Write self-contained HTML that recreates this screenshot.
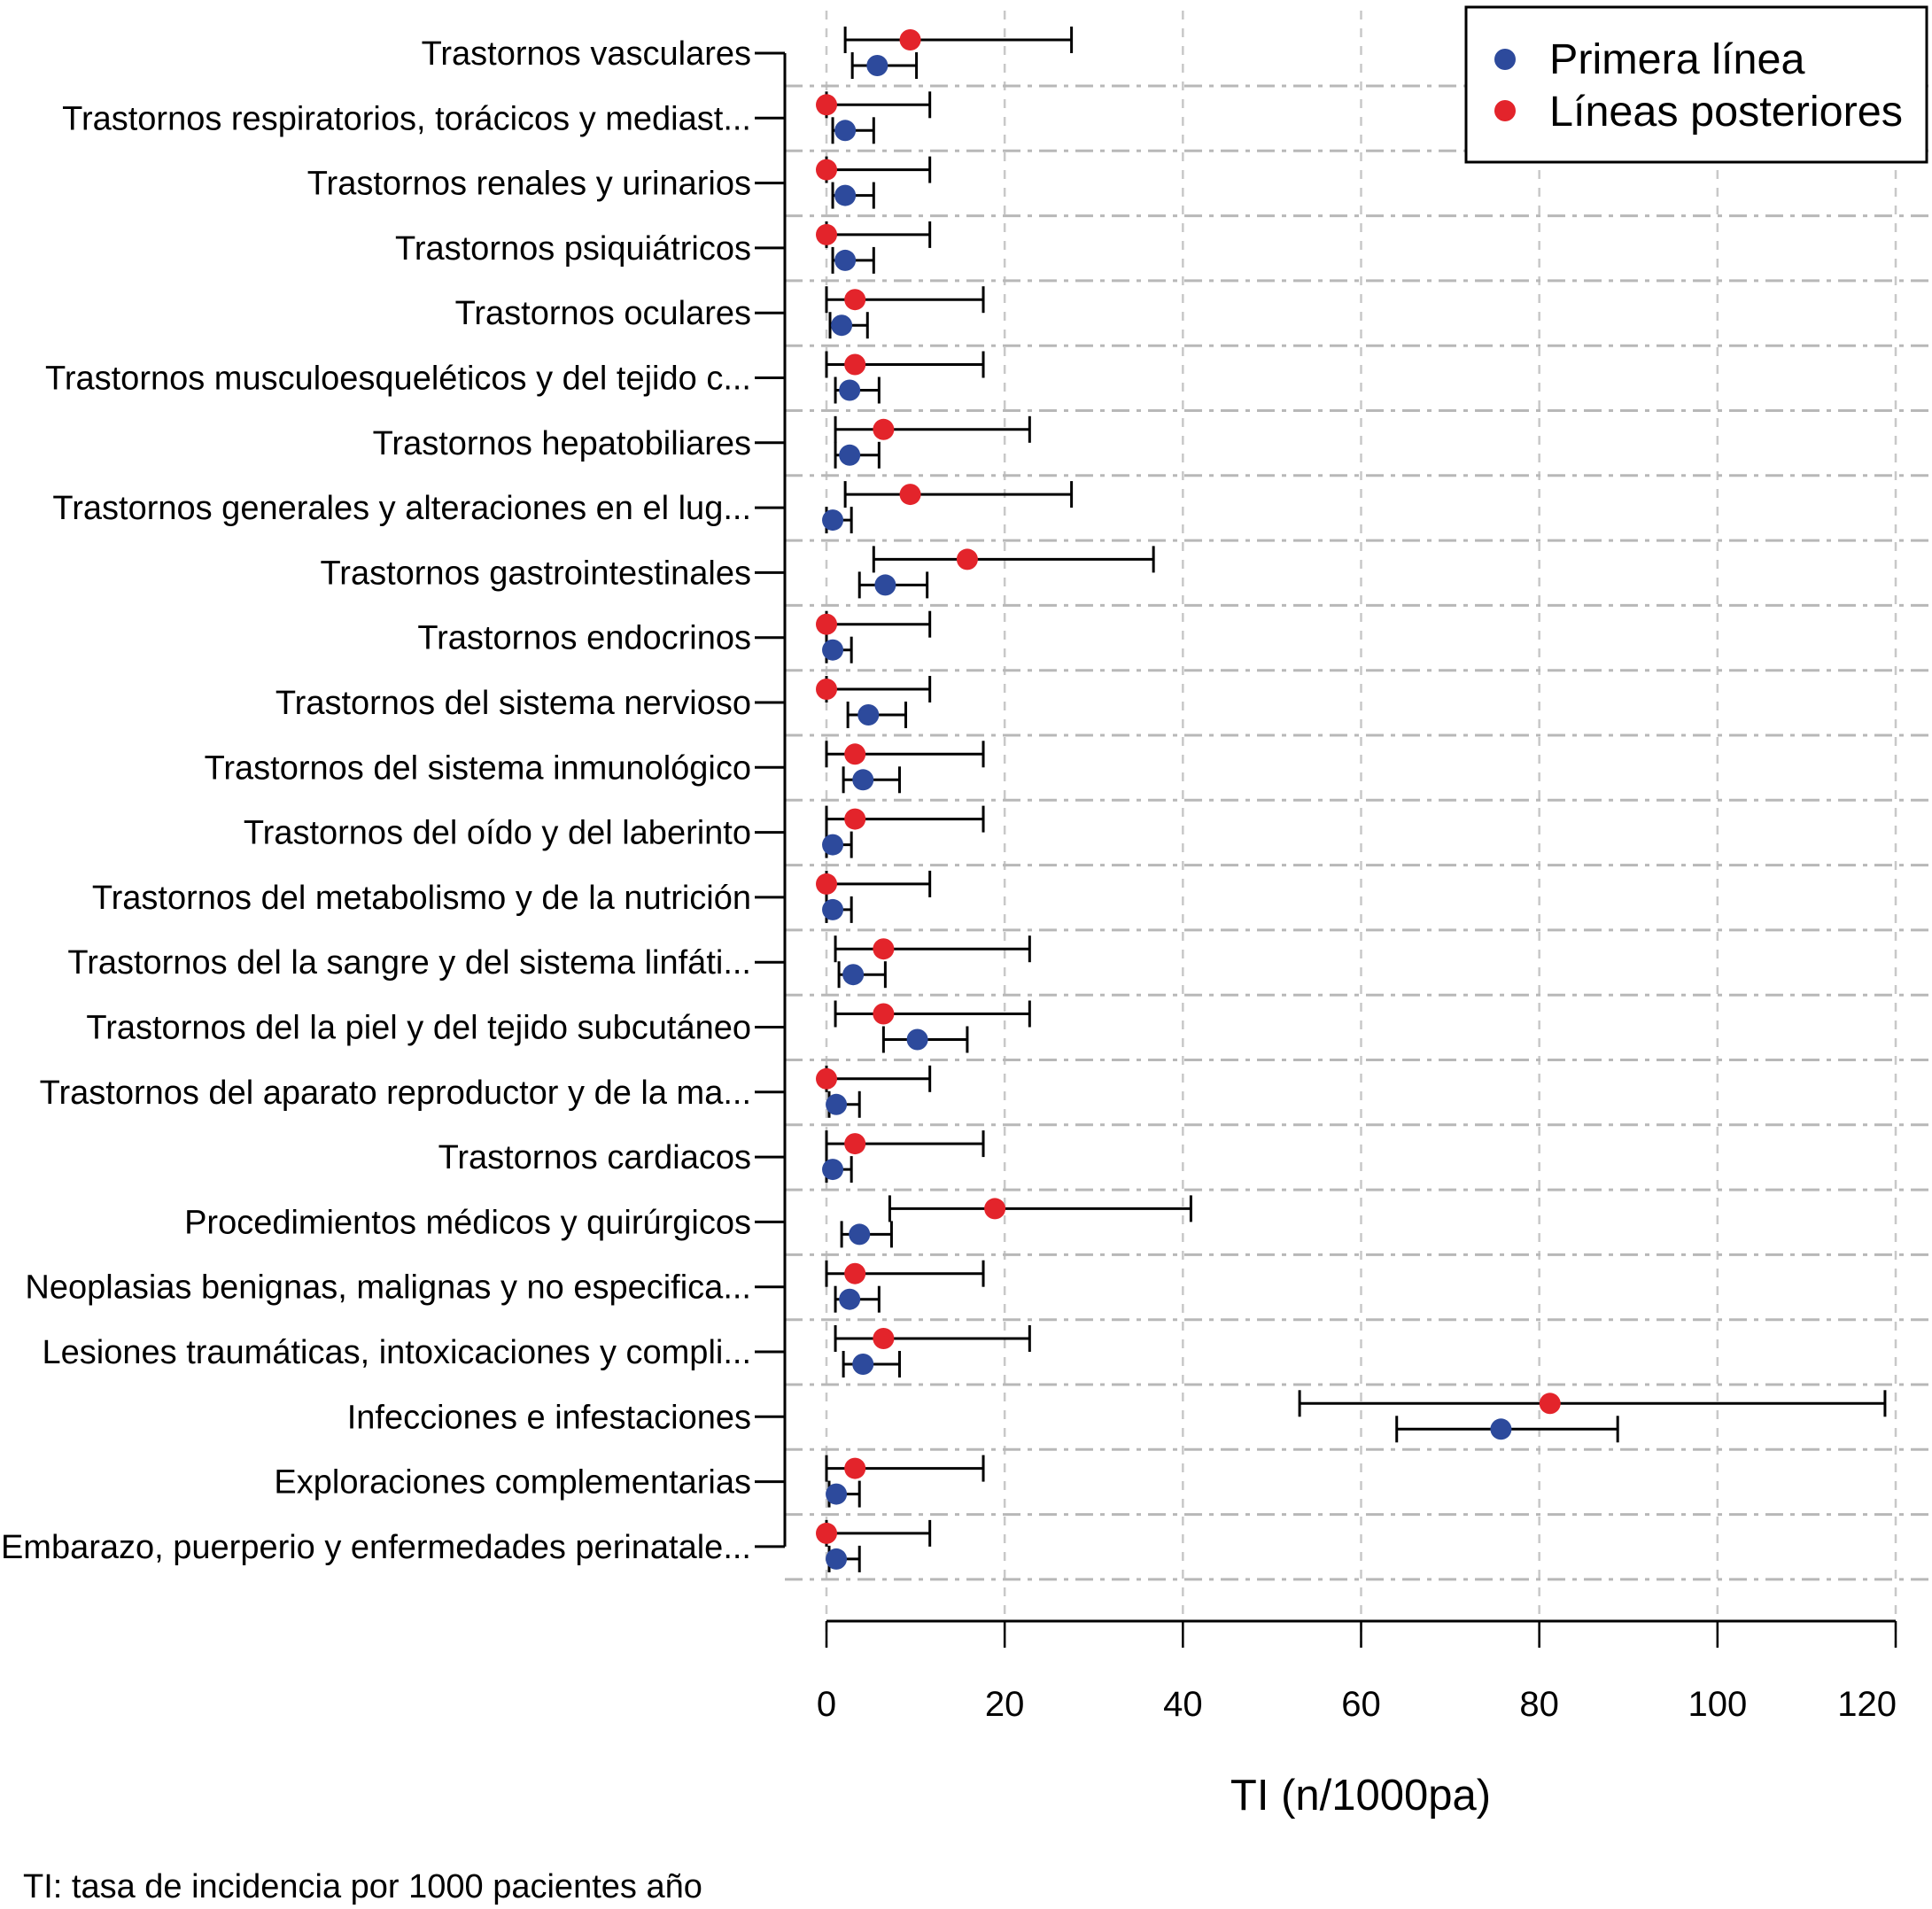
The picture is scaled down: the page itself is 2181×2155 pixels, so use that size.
<!DOCTYPE html>
<html><head><meta charset="utf-8">
<style>
html,body{margin:0;padding:0;background:#fff;}
svg{display:block;font-family:"Liberation Sans",Arial,sans-serif;}
</style></head>
<body>
<svg id="chart" width="2181" height="2155" viewBox="0 0 2181 2155" xmlns="http://www.w3.org/2000/svg">
<g id="grid"></g>
<g id="rows"></g>
<g id="xaxis"></g>
<text x="1536" y="2043" font-size="49" text-anchor="middle">TI (n/1000pa)</text>
<text x="26" y="2142" font-size="38">TI: tasa de incidencia por 1000 pacientes año</text>
<g>
<rect x="1655" y="8" width="520" height="175" fill="#fff" stroke="#000" stroke-width="3"/>
<circle cx="1699" cy="67" r="12" fill="#2d4a9c"/>
<text x="1749" y="83" font-size="48.5">Primera línea</text>
<circle cx="1699" cy="125" r="12" fill="#e3242b"/>
<text x="1749" y="142" font-size="48.5">Líneas posteriores</text>
</g>
</svg>
<script>
const categories = ["Trastornos vasculares","Trastornos respiratorios, torácicos y mediast...","Trastornos renales y urinarios","Trastornos psiquiátricos","Trastornos oculares","Trastornos musculoesqueléticos y del tejido c...","Trastornos hepatobiliares","Trastornos generales y alteraciones en el lug...","Trastornos gastrointestinales","Trastornos endocrinos","Trastornos del sistema nervioso","Trastornos del sistema inmunológico","Trastornos del oído y del laberinto","Trastornos del metabolismo y de la nutrición","Trastornos del la sangre y del sistema linfáti...","Trastornos del la piel y del tejido subcutáneo","Trastornos del aparato reproductor y de la ma...","Trastornos cardiacos","Procedimientos médicos y quirúrgicos","Neoplasias benignas, malignas y no especifica...","Lesiones traumáticas, intoxicaciones y compli...","Infecciones e infestaciones","Exploraciones complementarias","Embarazo, puerperio y enfermedades perinatale..."];
const redVal = [9.4,0,0,0,3.2,3.2,6.4,9.4,15.8,0,0,3.2,3.2,0,6.4,6.4,0,3.2,18.9,3.2,6.4,81.2,3.2,0];
const redLo  = [2.1,0,0,0,0,0,1,2.1,5.3,0,0,0,0,0,1,1,0,0,7.1,0,1,53.1,0,0];
const redHi  = [27.5,11.6,11.6,11.6,17.6,17.6,22.8,27.5,36.7,11.6,11.6,17.6,17.6,11.6,22.8,22.8,11.6,17.6,40.9,17.6,22.8,118.8,17.6,11.6];
const blueVal = [5.7,2.1,2.1,2.1,1.7,2.6,2.6,0.7,6.6,0.7,4.7,4.1,0.7,0.7,3.0,10.2,1.1,0.7,3.7,2.6,4.1,75.7,1.1,1.1];
const blueLo  = [2.9,0.7,0.7,0.7,0.4,1,1,0,3.7,0,2.4,1.9,0,0,1.4,6.4,0.3,0,1.7,1,1.9,64.0,0.3,0.3];
const blueHi  = [10.1,5.3,5.3,5.3,4.6,5.9,5.9,2.8,11.3,2.8,8.9,8.2,2.8,2.8,6.6,15.8,3.7,2.8,7.3,5.9,8.2,88.8,3.7,3.7];
const xTicks = [0,20,40,60,80,100,120];

const NS = "http://www.w3.org/2000/svg";
const X0 = 933, X1 = 2140, XMAX = 120;
const xs = v => X0 + (X1 - X0) * v / XMAX;
const ROW0 = 60, ROWH = 73.3;
const ys = i => ROW0 + ROWH * i;
function mk(parent, tag, attrs){const e=document.createElementNS(NS,tag);for(const k in attrs)e.setAttribute(k,attrs[k]);parent.appendChild(e);return e;}

const grid = document.getElementById('grid');
const rows = document.getElementById('rows');
const xaxis = document.getElementById('xaxis');
const nRows = categories.length;

xTicks.forEach(t => {
  const l = mk(grid,'line',{x1:xs(t),x2:xs(t),y1:12,y2:1860,stroke:'#c8c8c8','stroke-width':2.5,'stroke-dasharray':'10 10'});
  
  
});
for (let i = 0; i < nRows; i++) {
  const y = ys(i) + 37;
  const l = mk(grid,'line',{x1:886,x2:2181,y1:y,y2:y,stroke:'#b8b8b8','stroke-width':3,'stroke-dasharray':'20 8 5 8'});
  
  
}
const yl = mk(rows,'line',{x1:886,x2:886,y1:ys(0),y2:ys(nRows-1),stroke:'#000','stroke-width':3});



function errbar(y, lo, hi, val, color, name){
  const g = mk(rows,'g',{});
  
  
  mk(g,'line',{x1:xs(lo),x2:xs(hi),y1:y,y2:y,stroke:'#000','stroke-width':3});
  mk(g,'line',{x1:xs(lo),x2:xs(lo),y1:y-15,y2:y+15,stroke:'#000','stroke-width':3});
  mk(g,'line',{x1:xs(hi),x2:xs(hi),y1:y-15,y2:y+15,stroke:'#000','stroke-width':3});
  mk(g,'circle',{cx:xs(val),cy:y,r:12,fill:color});
}

categories.forEach((c, i) => {
  const y = ys(i);
  const tk = mk(rows,'line',{x1:852,x2:886,y1:y,y2:y,stroke:'#000','stroke-width':3});
  
  
  const t = mk(rows,'text',{x:848,y:y+13,'font-size':38,'text-anchor':'end'});
  t.textContent = c;
  
  
  errbar(y - 15, redLo[i], redHi[i], redVal[i], '#e3242b', 'posteriores-point');
  errbar(y + 14, blueLo[i], blueHi[i], blueVal[i], '#2d4a9c', 'primera-point');
});

const ax = mk(xaxis,'line',{x1:xs(0),x2:xs(XMAX),y1:1830,y2:1830,stroke:'#000','stroke-width':3});


xTicks.forEach((t, k) => {
  const l = mk(xaxis,'line',{x1:xs(t),x2:xs(t),y1:1830,y2:1860,stroke:'#000','stroke-width':2.5});
  
  
  const last = k === xTicks.length - 1;
  const tx = mk(xaxis,'text',{x:last ? xs(t) + 1 : xs(t),y:1937,'font-size':40,'text-anchor':last ? 'end' : 'middle'});
  tx.textContent = t;
  
  
});
</script>
</body></html>
